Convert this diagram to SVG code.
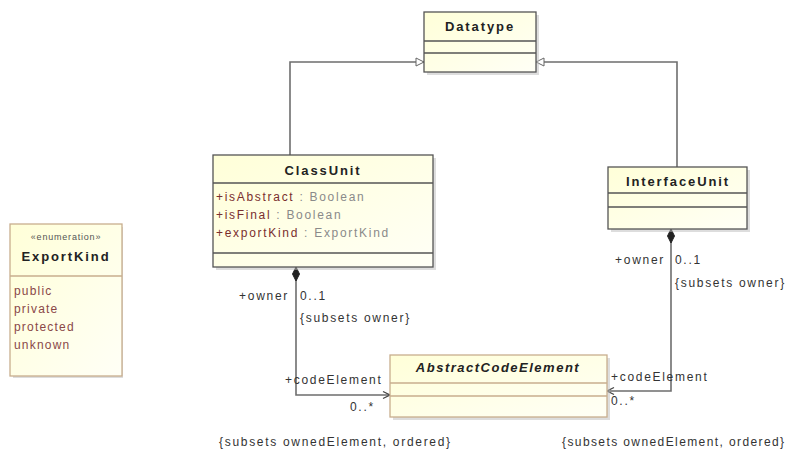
<svg xmlns="http://www.w3.org/2000/svg" width="794" height="454" viewBox="0 0 794 454">
<defs>
  <linearGradient id="fillg" x1="0" y1="0" x2="1" y2="1">
    <stop offset="0" stop-color="#FFFFD8"/>
    <stop offset="1" stop-color="#FFFFF6"/>
  </linearGradient>
  <marker id="gen" markerWidth="10" markerHeight="10" refX="9" refY="5" orient="auto" markerUnits="userSpaceOnUse">
    <path d="M1,1 L9,5 L1,9 Z" fill="#fff" stroke="#666" stroke-width="1"/>
  </marker>
  <marker id="nav" markerWidth="10" markerHeight="10" refX="9" refY="5" orient="auto" markerUnits="userSpaceOnUse">
    <path d="M2,1.5 L9,5 L2,8.5" fill="none" stroke="#444" stroke-width="1.3"/>
  </marker>
  <marker id="dia" markerWidth="16" markerHeight="10" refX="1" refY="5" orient="auto" markerUnits="userSpaceOnUse">
    <path d="M1,5 L8,1.5 L15,5 L8,8.5 Z" fill="#222" stroke="#222" stroke-width="1"/>
  </marker>
</defs>
<style>
  .box { fill: url(#fillg); stroke: #555; stroke-width: 1.3; }
  .box2 { fill: url(#fillg); stroke: #C8AE8E; stroke-width: 1.3; }
  .shadow { fill: #bbb; opacity: 0.5; }
  .sep { stroke: #555; stroke-width: 1.3; }
  .sep2 { stroke: #C8AE8E; stroke-width: 1.3; }
  .title { font-family: "Liberation Sans", Arial, sans-serif; font-size: 13px; font-weight: bold; fill: #222; letter-spacing: 1.9px; text-anchor: middle; }
  .ital { font-style: italic; letter-spacing: 1.5px; }
  .lbl { font-family: "Liberation Sans", Arial, sans-serif; font-size: 12px; fill: #333; letter-spacing: 1.7px; }
  .attr { fill: #7A2E2E; }
  .type { fill: #8A8A8A; }
  .stereo { font-family: "Liberation Sans", Arial, sans-serif; font-size: 9px; fill: #555; letter-spacing: 0.8px; text-anchor: middle; }
  .lit { font-family: "Liberation Sans", Arial, sans-serif; font-size: 12px; fill: #8A4848; letter-spacing: 1.2px; }
  .conn { fill: none; stroke: #6E6E6E; stroke-width: 1.6; }
</style>

<g id="connectors">
  <path class="conn" d="M290,155 L290,62 L424,62" marker-end="url(#gen)"/>
  <path class="conn" d="M677,167 L677,62 L536,62" marker-end="url(#gen)"/>
  <path class="conn" d="M296,267 L296,395 L390,395" marker-start="url(#dia)" marker-end="url(#nav)"/>
  <path class="conn" d="M671,229 L671,391 L607,391" marker-start="url(#dia)" marker-end="url(#nav)"/>
  <text class="lbl" x="289" y="300" text-anchor="end">+owner</text>
  <text class="lbl" x="300" y="300">0..1</text>
  <text class="lbl" x="300" y="322">{subsets owner}</text>
  <text class="lbl" x="285" y="384">+codeElement</text>
  <text class="lbl" x="350" y="411">0..*</text>
  <text class="lbl" x="219" y="446">{subsets ownedElement, ordered}</text>
  <text class="lbl" x="665" y="264" text-anchor="end">+owner</text>
  <text class="lbl" x="675" y="264">0..1</text>
  <text class="lbl" x="675" y="287">{subsets owner}</text>
  <text class="lbl" x="611" y="381">+codeElement</text>
  <text class="lbl" x="611" y="405">0..*</text>
  <text class="lbl" x="562" y="446" style="letter-spacing:1.4px">{subsets ownedElement, ordered}</text>
</g>

<g id="Datatype">
  <rect class="shadow" x="427" y="15" width="112" height="60"/>
  <rect class="box" x="424" y="12" width="112" height="60"/>
  <line class="sep" x1="424" y1="41" x2="536" y2="41"/>
  <line class="sep" x1="424" y1="53" x2="536" y2="53"/>
  <text class="title" x="480" y="31">Datatype</text>
</g>

<g id="ClassUnit">
  <rect class="shadow" x="216" y="158" width="220" height="112"/>
  <rect class="box" x="213" y="155" width="220" height="112"/>
  <line class="sep" x1="213" y1="183" x2="433" y2="183"/>
  <line class="sep" x1="213" y1="253" x2="433" y2="253"/>
  <text class="title" x="323" y="175">ClassUnit</text>
  <text class="lbl" x="216" y="201"><tspan class="attr">+isAbstract</tspan><tspan class="type"> : Boolean</tspan></text>
  <text class="lbl" x="216" y="219"><tspan class="attr">+isFinal</tspan><tspan class="type"> : Boolean</tspan></text>
  <text class="lbl" x="216" y="237"><tspan class="attr">+exportKind</tspan><tspan class="type"> : ExportKind</tspan></text>
</g>

<g id="InterfaceUnit">
  <rect class="shadow" x="611" y="170" width="139" height="62"/>
  <rect class="box" x="608" y="167" width="139" height="62"/>
  <line class="sep" x1="608" y1="193" x2="747" y2="193"/>
  <line class="sep" x1="608" y1="207" x2="747" y2="207"/>
  <text class="title" x="678" y="186">InterfaceUnit</text>
</g>

<g id="ExportKind">
  <rect class="shadow" x="13" y="227" width="110" height="151"/>
  <rect class="box2" x="10" y="224" width="112" height="152"/>
  <line class="sep2" x1="10" y1="276" x2="122" y2="276"/>
  <text class="stereo" x="66" y="240">«enumeration»</text>
  <text class="title" x="66" y="261">ExportKind</text>
  <text class="lit" x="14" y="295">public</text>
  <text class="lit" x="14" y="313">private</text>
  <text class="lit" x="14" y="331">protected</text>
  <text class="lit" x="14" y="349">unknown</text>
</g>

<g id="AbstractCodeElement">
  <rect class="shadow" x="393" y="358" width="217" height="62"/>
  <rect class="box2" x="390" y="355" width="217" height="62"/>
  <line class="sep2" x1="390" y1="383" x2="607" y2="383"/>
  <line class="sep2" x1="390" y1="396" x2="607" y2="396"/>
  <text class="title ital" x="498" y="372">AbstractCodeElement</text>
</g>
</svg>
